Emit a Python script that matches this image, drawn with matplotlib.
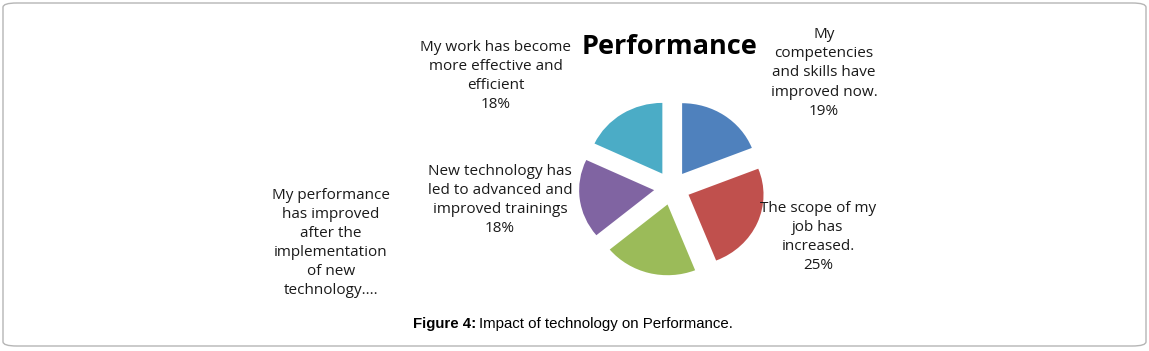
import matplotlib.pyplot as plt
from matplotlib.patches import FancyBboxPatch

plt.rcParams.update({
    'font.family': ['Open Sans', 'DejaVu Sans'],
    'font.size': 10,
})

# ── Data ───────────────────────────────────────────────────────────────
labels = [
    'My\ncompetencies\nand skills have\nimproved now.',
    'The scope of my\njob has\nincreased.',
    'My performance\nhas improved\nafter the\nimplementation\nof new\ntechnology....',
    'New technology has\nled to advanced and\nimproved trainings',
    'My work has become\nmore effective and\nefficient',
]
values = [19, 25, 20, 18, 18]
show_pct = [True, True, False, True, True]
colors = ['#4F81BD', '#C0504D', '#9BBB59', '#8064A2', '#4BACC6']

# label centres in figure pixels (x, y from top)
label_pos = [(824, 73), (818, 237), (331, 243), (500, 200), (496, 76)]

W, H = 1149, 351
SY = 1.06  # pie is a bit wider than tall in the original

fig = plt.figure(figsize=(W / 100, H / 100), dpi=100)
ax = fig.add_axes([0, 0, 1, 1])

# explode is in data units here (radius is 75)
ax.pie(values, colors=colors, startangle=90, counterclock=False,
       explode=[18] * len(values), radius=75,
       center=(672, (H - 188) * SY),
       wedgeprops=dict(linewidth=0))
ax.set_aspect('auto')
ax.set_xlim(0, W)
ax.set_ylim(0, H * SY)
ax.axis('off')

def fx(x):
    return x / W

def fy(y):
    return 1 - y / H

for lab, v, sp, (x, y) in zip(labels, values, show_pct, label_pos):
    txt = lab + (f'\n{v}%' if sp else '')
    fig.text(fx(x), fy(y), txt, ha='center', va='center', fontsize=11,
             linespacing=1.38, color='#1a1a1a')

fig.text(fx(670), fy(47), 'Performance', ha='center', va='center',
         fontsize=19.5, fontweight='bold', color='black')

# caption
fig.text(fx(476), fy(324), 'Figure 4:', ha='right', va='center',
         fontsize=10.8, fontweight='bold', family='Liberation Sans')
fig.text(fx(479), fy(324), 'Impact of technology on Performance.', ha='left',
         va='center', fontsize=10.8, family='Liberation Sans')

# outer frame
frame = FancyBboxPatch((fx(3), fy(346)), fx(1143), 343 / H,
                       boxstyle='round,pad=0,rounding_size=0.012',
                       transform=fig.transFigure, facecolor='none',
                       edgecolor='#b5b5b5', linewidth=1.0)
fig.patches.append(frame)

fig.savefig('out.png', dpi=100)
